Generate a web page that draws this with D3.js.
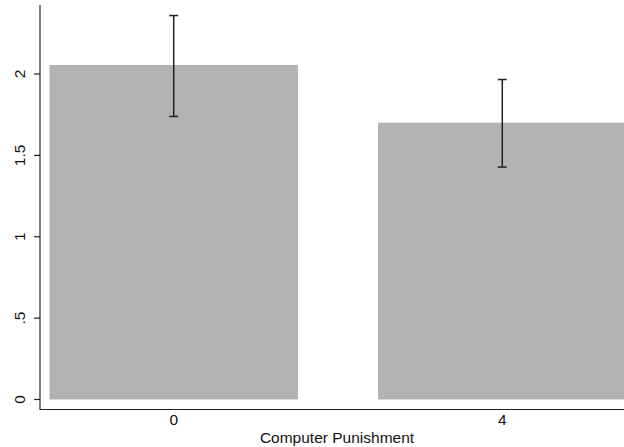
<!DOCTYPE html>
<html>
<head>
<meta charset="utf-8">
<script src="https://cdn.jsdelivr.net/npm/d3@7"></script>
<style>
  body { margin: 0; background: #fff; }
  text { font-family: "Liberation Sans", Arial, sans-serif; }
</style>
</head>
<body>
<div id="chart-area"></div>
<script>
// data
var categories = ["0", "4"]
var means = [2.05, 1.695]
var ciLow = [1.736, 1.425]
var ciHigh = [2.356, 1.963]
var yTicks = [0, 0.5, 1, 1.5, 2]
var yTickLabels = ["0", ".5", "1", "1.5", "2"]

var W = 624, H = 447
var fontSize = '15.5px'

var svg = d3.select('#chart-area').append('svg')
  .attr('width', W)
  .attr('height', H)

// scales
var yScale = d3.scaleLinear()
  .domain([0, 2])
  .range([399, 73.5])

var xScale = d3.scaleBand()
  .domain(categories)
  .range([50, 626])
  .paddingInner(0.247)
  .paddingOuter(0)

// bars
svg.selectAll('rect.bar')
  .data(categories)
  .enter()
  .append('rect')
  .attr('class', 'bar')
  .attr('x', function(d){ return xScale(d) })
  .attr('width', xScale.bandwidth())
  .attr('y', function(d, i){ return yScale(means[i]) })
  .attr('height', function(d, i){ return yScale(0) - yScale(means[i]) })
  .attr('fill', '#b3b3b3')
  .attr('stroke', '#a9a9a9')
  .attr('stroke-width', 0.8)

// error bars
var capHalf = 4.5
var eb = svg.selectAll('g.err')
  .data(categories)
  .enter()
  .append('g')
  .attr('class', 'err')
  .attr('stroke', '#222')
  .attr('stroke-width', 1.5)

eb.append('line')
  .attr('x1', function(d){ return xScale(d) + xScale.bandwidth()/2 })
  .attr('x2', function(d){ return xScale(d) + xScale.bandwidth()/2 })
  .attr('y1', function(d, i){ return yScale(ciLow[i]) })
  .attr('y2', function(d, i){ return yScale(ciHigh[i]) })

eb.append('line')
  .attr('x1', function(d){ return xScale(d) + xScale.bandwidth()/2 - capHalf })
  .attr('x2', function(d){ return xScale(d) + xScale.bandwidth()/2 + capHalf })
  .attr('y1', function(d, i){ return yScale(ciHigh[i]) })
  .attr('y2', function(d, i){ return yScale(ciHigh[i]) })

eb.append('line')
  .attr('x1', function(d){ return xScale(d) + xScale.bandwidth()/2 - capHalf })
  .attr('x2', function(d){ return xScale(d) + xScale.bandwidth()/2 + capHalf })
  .attr('y1', function(d, i){ return yScale(ciLow[i]) })
  .attr('y2', function(d, i){ return yScale(ciLow[i]) })

// y axis
var yAxis = d3.axisLeft(yScale)
  .tickValues(yTicks)
  .tickFormat(function(d, i){ return yTickLabels[i] })
  .tickSize(6)
  .tickPadding(14)

var yG = svg.append('g')
  .attr('transform', 'translate(40,0)')
  .call(yAxis)

yG.select('.domain').remove()
yG.append('line')
  .attr('x1', 0).attr('x2', 0)
  .attr('y1', 5).attr('y2', 410)
  .attr('stroke', '#222').attr('stroke-width', 1.2)
yG.selectAll('.tick line').attr('stroke', '#222').attr('stroke-width', 1.2)
yG.selectAll('.tick text')
  .attr('x', 0).attr('dy', 0)
  .attr('transform', 'translate(-20.5,0) rotate(-90)')
  .attr('text-anchor', 'middle')
  .attr('dominant-baseline', 'central')
  .attr('font-size', fontSize)
  .attr('fill', '#111')

// x axis
var xAxis = d3.axisBottom(xScale)
  .tickSize(0)
  .tickPadding(4)

var xG = svg.append('g')
  .attr('transform', 'translate(0,409.5)')
  .call(xAxis)

xG.select('.domain').remove()
xG.append('line')
  .attr('x1', 40).attr('x2', 624)
  .attr('y1', 0).attr('y2', 0)
  .attr('stroke', '#222').attr('stroke-width', 1.2)
xG.selectAll('.tick text')
  .attr('font-size', fontSize)
  .attr('fill', '#111')

// axis title
svg.append('text')
  .attr('x', 337)
  .attr('y', 443)
  .attr('text-anchor', 'middle')
  .attr('font-size', fontSize)
  .attr('fill', '#111')
  .text('Computer Punishment')
</script>
</body>
</html>
